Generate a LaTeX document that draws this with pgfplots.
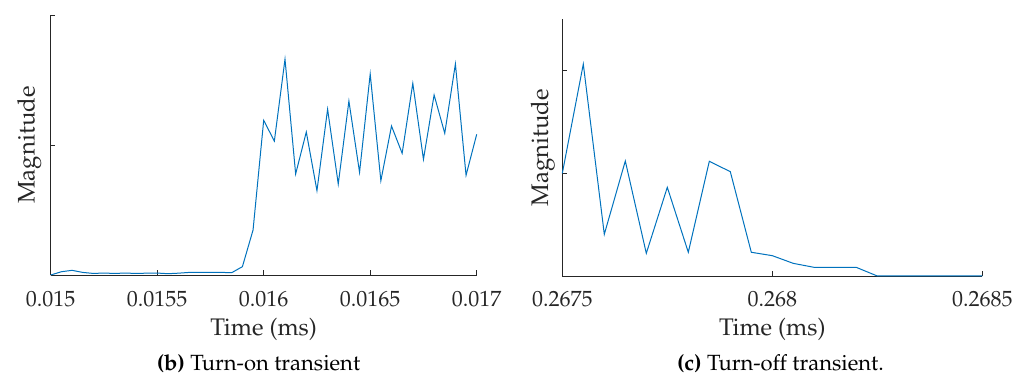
\documentclass[border=0pt]{standalone}
\usepackage[T1]{fontenc}
\usepackage{mathpazo}
\usepackage{pgfplots}
\pgfplotsset{compat=1.18}
\definecolor{mblue}{RGB}{0,114,189}
\definecolor{mgray}{RGB}{38,38,38}
\pgfplotsset{
  mstyle/.style={
    scale only axis,
    axis x line*=bottom,
    axis y line*=left,
    axis line style={-, mgray, line width=0.8bp},
    every tick/.style={mgray, line width=0.8bp},
    tick align=inside,
    major tick length=4.5bp,
    ytick={0,1,2},
    yticklabels={},
    scaled x ticks=false,
    clip=false,
    xticklabel style={anchor=base, yshift=-31bp, font=\fontsize{22bp}{26bp}\selectfont, text=mgray},
    label style={font=\fontsize{24bp}{28bp}\selectfont, text=mgray},
  }
}
\begin{document}
\begin{tikzpicture}
\path[use as bounding box] (0,0) rectangle (1026bp,378bp);
\begin{axis}[mstyle,
  at={(50.7bp,103bp)}, anchor=south west,
  width=426bp, height=260bp,
  xmin=0.015, xmax=0.017, ymin=0, ymax=2,
  xtick={0.015,0.0155,0.016,0.0165,0.017},
  xticklabels={0.015,0.0155,0.016,0.0165,0.017},
  xlabel={Time (ms)},
  ylabel={Magnitude},
  xlabel style={at={(axis description cs:0.5,-0.2308)}, anchor=base},
  ylabel style={at={(axis description cs:-0.0376,0.5)}, rotate=0, anchor=base},
]
\addplot[mblue, line width=1bp] table {
x y
0.01500 0
0.01505 0.025
0.01510 0.036
0.01515 0.020
0.01520 0.012
0.01525 0.015
0.01530 0.012
0.01535 0.015
0.01540 0.012
0.01545 0.014
0.01550 0.015
0.01555 0.010
0.01560 0.014
0.01565 0.020
0.01570 0.020
0.01575 0.021
0.01580 0.020
0.01585 0.018
0.01590 0.064
0.01595 0.346
0.01600 1.190
0.01605 1.030
0.01610 1.660
0.01615 0.777
0.01620 1.100
0.01625 0.649
0.01630 1.275
0.01635 0.700
0.01640 1.338
0.01645 0.790
0.01650 1.546
0.01655 0.725
0.01660 1.146
0.01665 0.936
0.01670 1.474
0.01675 0.890
0.01680 1.385
0.01685 1.090
0.01690 1.623
0.01695 0.767
0.01700 1.082
};
\end{axis}
\begin{axis}[mstyle,
  at={(562.3bp,102bp)}, anchor=south west,
  width=420bp, height=256.7bp,
  xmin=0.2675, xmax=0.2685, ymin=0, ymax=2.5,
  xtick={0.2675,0.268,0.2685},
  xticklabels={0.2675,0.268,0.2685},
  xlabel={Time (ms)},
  ylabel={Magnitude},
  xlabel style={at={(axis description cs:0.5,-0.23)}, anchor=base},
  ylabel style={at={(axis description cs:-0.034,0.5)}, rotate=0, anchor=base},
]
\addplot[mblue, line width=1bp] table {
x y
0.26750 1.000
0.26755 2.064
0.26760 0.406
0.26765 1.120
0.26770 0.221
0.26775 0.864
0.26780 0.231
0.26785 1.117
0.26790 1.016
0.26795 0.231
0.26800 0.198
0.26805 0.123
0.26810 0.084
0.26815 0.084
0.26820 0.084
0.26825 0.000
0.26830 0.000
0.26835 0.000
0.26840 0.000
0.26845 0.000
0.26850 0.000
};
\end{axis}
\node[anchor=base, font=\fontsize{22bp}{26bp}\selectfont, text=black, inner sep=0pt] at (258.5bp,8bp) {\textbf{(b)} Turn-on transient};
\node[anchor=base, font=\fontsize{22bp}{26bp}\selectfont, text=black, inner sep=0pt] at (780.5bp,8bp) {\textbf{(c)} Turn-off transient.};
\end{tikzpicture}
\end{document}
